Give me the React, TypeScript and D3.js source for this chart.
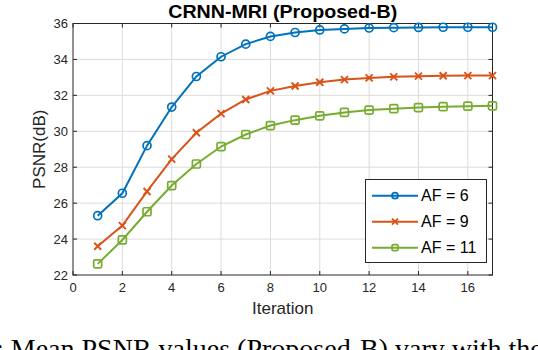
import { useRef, useEffect } from 'react';
import * as d3 from 'd3';

const iterations = [1, 2, 3, 4, 5, 6, 7, 8, 9, 10, 11, 12, 13, 14, 15, 16, 17];
const af6 = [25.3, 26.55, 29.2, 31.35, 33.05, 34.15, 34.85, 35.28, 35.5, 35.64, 35.7, 35.75, 35.77, 35.78, 35.79, 35.79, 35.79];
const af9 = [23.6, 24.75, 26.65, 28.45, 29.92, 30.98, 31.77, 32.25, 32.52, 32.73, 32.88, 32.97, 33.03, 33.07, 33.09, 33.1, 33.1];
const af11 = [22.62, 23.95, 25.52, 26.98, 28.18, 29.15, 29.82, 30.32, 30.62, 30.86, 31.05, 31.18, 31.26, 31.32, 31.37, 31.4, 31.42];
const seriesNames = ['AF = 6', 'AF = 9', 'AF = 11'];
const xTicks = [0, 2, 4, 6, 8, 10, 12, 14, 16];
const yTicks = [22, 24, 26, 28, 30, 32, 34, 36];

const colors = ['#0072BD', '#D95319', '#77AC30'];
const markers = ['circle', 'cross', 'square'];

function drawMarker(g, type, x, y, color, s) {
  if (type === 'circle') {
    g.append('circle').attr('cx', x).attr('cy', y).attr('r', s)
      .attr('fill', 'none').attr('stroke', color).attr('stroke-width', 1.7);
  } else if (type === 'cross') {
    g.append('path')
      .attr('d', `M${x - s},${y - s}L${x + s},${y + s}M${x - s},${y + s}L${x + s},${y - s}`)
      .attr('stroke', color).attr('stroke-width', 1.9).attr('fill', 'none');
  } else {
    g.append('rect').attr('x', x - s).attr('y', y - s).attr('width', 2 * s).attr('height', 2 * s)
      .attr('rx', 1.5).attr('fill', 'none').attr('stroke', color).attr('stroke-width', 1.7);
  }
}

function App() {
  const svgRef = useRef(null);

  useEffect(() => {
    const svg = d3.select(svgRef.current);
    svg.selectAll('*').remove();

    const left = 73, right = 492.5, top = 23.5, bottom = 275;
    const x = d3.scaleLinear().domain([0, 17]).range([left, right]);
    const y = d3.scaleLinear().domain([22, 36]).range([bottom, top]);
    const font = 'Liberation Sans, Arial, sans-serif';

    svg.append('rect').attr('width', 538).attr('height', 350).attr('fill', '#fff');

    // Grid
    const grid = svg.append('g');
    xTicks.filter(t => t > 0).forEach(t => {
      grid.append('line').attr('x1', x(t)).attr('x2', x(t)).attr('y1', top).attr('y2', bottom)
        .attr('stroke', '#dcdcdc').attr('stroke-width', 1);
    });
    yTicks.filter(t => t > 22 && t < 36).forEach(t => {
      grid.append('line').attr('x1', left).attr('x2', right).attr('y1', y(t)).attr('y2', y(t))
        .attr('stroke', '#dcdcdc').attr('stroke-width', 1);
    });

    // Axes box, ticks inward on all four sides
    const ax = svg.append('g').attr('stroke', '#262626').attr('stroke-width', 1);
    ax.append('rect').attr('x', left).attr('y', top).attr('width', right - left).attr('height', bottom - top)
      .attr('fill', 'none');
    xTicks.forEach(t => {
      ax.append('line').attr('x1', x(t)).attr('x2', x(t)).attr('y1', bottom).attr('y2', bottom - 4);
      ax.append('line').attr('x1', x(t)).attr('x2', x(t)).attr('y1', top).attr('y2', top + 4);
    });
    yTicks.forEach(t => {
      ax.append('line').attr('x1', left).attr('x2', left + 4).attr('y1', y(t)).attr('y2', y(t));
      ax.append('line').attr('x1', right).attr('x2', right - 4).attr('y1', y(t)).attr('y2', y(t));
    });

    svg.append('g').selectAll('text').data(xTicks).enter().append('text')
      .attr('x', d => x(d)).attr('y', 292).attr('text-anchor', 'middle')
      .attr('font-family', font).attr('font-size', 13).attr('fill', '#262626')
      .text(d => d);
    svg.append('g').selectAll('text').data(yTicks).enter().append('text')
      .attr('x', 68).attr('y', d => y(d) + 4.5).attr('text-anchor', 'end')
      .attr('font-family', font).attr('font-size', 13).attr('fill', '#262626')
      .text(d => d);

    svg.append('text').attr('x', x(8.5)).attr('y', 314).attr('text-anchor', 'middle')
      .attr('font-family', font).attr('font-size', 17).attr('fill', '#262626').text('Iteration');
    svg.append('text').attr('transform', `translate(45,${(top + bottom) / 2}) rotate(-90)`)
      .attr('text-anchor', 'middle')
      .attr('font-family', font).attr('font-size', 17).attr('fill', '#262626').text('PSNR(dB)');
    svg.append('text').attr('x', x(8.5)).attr('y', 17.5).attr('text-anchor', 'middle')
      .attr('font-family', font).attr('font-size', 18.5).attr('font-weight', 'bold').attr('fill', '#000')
      .attr('textLength', 229).attr('lengthAdjust', 'spacingAndGlyphs')
      .text('CRNN-MRI (Proposed-B)');

    // Lines
    const all = [af6, af9, af11];
    const line = d3.line().x((d, i) => x(iterations[i])).y(d => y(d));
    all.forEach((vals, k) => {
      const g = svg.append('g');
      g.append('path').attr('d', line(vals)).attr('fill', 'none')
        .attr('stroke', colors[k]).attr('stroke-width', 2);
      vals.forEach((v, i) => drawMarker(g, markers[k], x(iterations[i]), y(v), colors[k], markers[k] === 'cross' ? 3.5 : 4));
    });

    // Legend
    const lg = svg.append('g');
    lg.append('rect').attr('x', 365.5).attr('y', 179.5).attr('width', 121).attr('height', 83)
      .attr('fill', '#fff').attr('stroke', '#262626').attr('stroke-width', 1);
    seriesNames.forEach((name, k) => {
      const ly = 195.7 + k * 26;
      lg.append('line').attr('x1', 372).attr('x2', 418).attr('y1', ly).attr('y2', ly)
        .attr('stroke', colors[k]).attr('stroke-width', 2);
      drawMarker(lg, markers[k], 395, ly, colors[k], 3);
      lg.append('text').attr('x', 421).attr('y', ly + 5.5)
        .attr('font-family', font).attr('font-size', 16).attr('fill', '#000').text(name);
    });

    // Caption of the paper figure, cut off at the bottom edge as in the source
    svg.append('text').attr('x', -4).attr('y', 357.5)
      .attr('font-family', 'Liberation Serif, Times New Roman, serif').attr('font-size', 28).attr('fill', '#000')
      .text(': Mean PSNR values (Proposed-B) vary with the');
  }, []);

  return (
    <svg ref={svgRef} width={538} height={350}
      style={{ position: 'absolute', left: 0, top: 0, display: 'block' }} />
  );
}

export default App;
